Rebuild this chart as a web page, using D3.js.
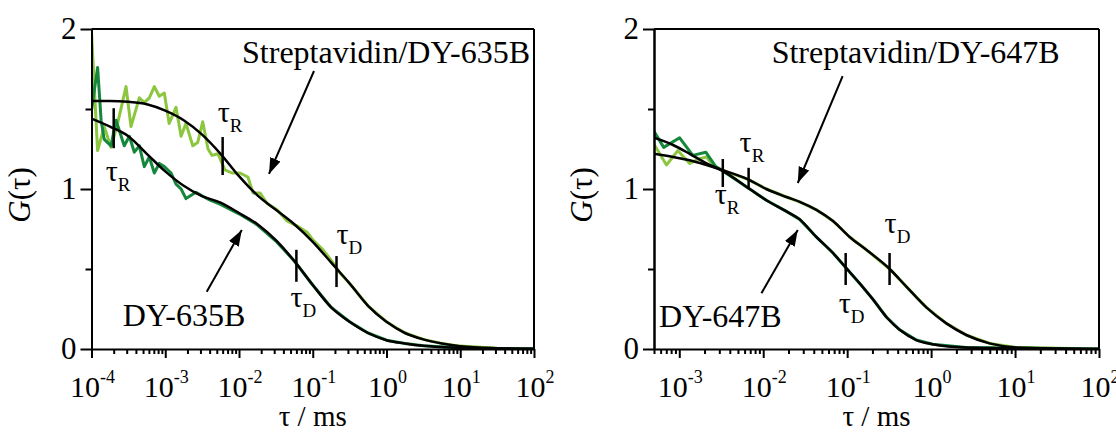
<!DOCTYPE html>
<html lang="en">
<head>
  <meta charset="UTF-8">
  <title>FCS correlation curves</title>
  <style>
    body { margin: 0; background: #fff; }
    svg { display: block; }
    text { font-family: "Liberation Serif", "Times New Roman", serif; fill: #000; }
    .domain, .tick line { stroke: #000; stroke-width: 2px; }
    .frame { stroke: #000; stroke-width: 2px; }
    .fit { fill: none; stroke: #000; stroke-width: 2.5px; }
    .data { fill: none; stroke-width: 3px; stroke-linejoin: round; }
  </style>
</head>
<body>
  <svg id="chart" width="1116" height="432"></svg>
  <script src="https://d3js.org/d3.v7.min.js"></script>
  <script>
    // tau in ms, G(tau)
    const data635Free = [[1e-4,1.49],[1.21e-4,1.76],[1.35e-4,1.43],[1.49e-4,1.31],[1.84e-4,1.27],[2.15e-4,1.43],
      [2.78e-4,1.27],[3.26e-4,1.33],[3.81e-4,1.23],[4.45e-4,1.27],[5.2e-4,1.14],[6.08e-4,1.2],[7.11e-4,1.1],
      [8.3e-4,1.16],[9.71e-4,1.14],[1.2e-3,1.1],[1.4e-3,1.03],[1.64e-3,1.0],[1.91e-3,0.94],[2.61e-3,0.98],
      [3.22e-3,0.955],[4.05e-3,0.93],[5.53e-3,0.905],[1e-2,0.845],[1.78e-2,0.775],[3.16e-2,0.675],[5.62e-2,0.55],
      [0.1,0.4],[0.178,0.26],[0.316,0.17],[0.562,0.1],[1,0.055],[1.78,0.035],[3.16,0.02],[10,0.007],[100,0]];
    const data635Strep = [[1e-4,1.98],[1.21e-4,1.24],[1.49e-4,1.39],[1.84e-4,1.26],[2.26e-4,1.41],[2.94e-4,1.64],
      [3.43e-4,1.39],[4.45e-4,1.57],[5.2e-4,1.54],[6.08e-4,1.57],[7.11e-4,1.64],[8.3e-4,1.58],[9.71e-4,1.6],
      [1.13e-3,1.41],[1.4e-3,1.51],[1.64e-3,1.33],[1.91e-3,1.41],[2.36e-3,1.27],[2.75e-3,1.29],[3.22e-3,1.42],
      [3.8e-3,1.25],[4.31e-3,1.21],[5.19e-3,1.22],[6.45e-3,1.12],[8.04e-3,1.1],[1.03e-2,1.1],[1.32e-2,1.075],
      [1.55e-2,0.975],[1.93e-2,0.975],[2.4e-2,0.91],[3.28e-2,0.87],[4.48e-2,0.8],[6.11e-2,0.77],[8.36e-2,0.73],
      [0.101,0.68],[0.138,0.62],[0.188,0.54],[0.234,0.475],[0.316,0.41],[0.562,0.27],[1,0.17],[1.78,0.1],
      [3.16,0.06],[5.62,0.035],[10,0.018],[31.6,0.005],[100,0.001]];
    const fit635Free = [[1e-4,1.44],[1.78e-4,1.39],[3.16e-4,1.33],[5.62e-4,1.22],[1e-3,1.11],[1.78e-3,1.02],
      [3.16e-3,0.955],[5.62e-3,0.915],[1e-2,0.85],[1.78e-2,0.78],[3.16e-2,0.68],[5.62e-2,0.55],[0.1,0.4],
      [0.178,0.26],[0.316,0.17],[0.562,0.1],[1,0.055],[1.78,0.035],[3.16,0.02],[5.62,0.012],[10,0.007],
      [31.6,0.002],[100,0]];
    const fit635Strep = [[1e-4,1.55],[1.78e-4,1.55],[3.16e-4,1.545],[5.62e-4,1.53],[1e-3,1.49],[1.78e-3,1.43],
      [3.16e-3,1.34],[5.62e-3,1.22],[1e-2,1.08],[1.78e-2,0.96],[3.16e-2,0.87],[5.62e-2,0.78],[0.1,0.67],
      [0.178,0.54],[0.316,0.41],[0.562,0.27],[1,0.17],[1.78,0.1],[3.16,0.06],[5.62,0.035],[10,0.018],
      [31.6,0.005],[100,0.001]];

    const data647Free = [[5e-4,1.36],[6.53e-4,1.26],[1.01e-3,1.32],[1.45e-3,1.21],[2.07e-3,1.23],[2.72e-3,1.14],
      [3.24e-3,1.115],[6.9e-3,1.0],[1.09e-2,0.93],[1.89e-2,0.86],[2.72e-2,0.81],[4.3e-2,0.7],[6.78e-2,0.6],
      [9.59e-2,0.51],[0.141,0.41],[0.203,0.31],[0.293,0.2],[0.422,0.12],[0.667,0.056],[1.04,0.03],[2.62,0.01],[100,0]];
    const data647Strep = [[5e-4,1.28],[7.04e-4,1.15],[9.6e-4,1.24],[1.33e-3,1.16],[1.75e-3,1.19],[2.11e-3,1.2],
      [2.51e-3,1.15],[3.18e-3,1.12],[6.59e-3,1.06],[1.09e-2,1.0],[1.89e-2,0.95],[2.72e-2,0.92],[4.3e-2,0.87],
      [6.78e-2,0.8],[0.107,0.7],[0.169,0.62],[0.321,0.5],[0.507,0.39],[0.877,0.26],[1.52,0.16],[2.62,0.0875],
      [4.97,0.035],[10.3,0.01],[100,0]];
    const fit647Free = [[5e-4,1.32],[8.43e-4,1.275],[1.33e-3,1.22],[2.11e-3,1.16],[3.24e-3,1.115],[6.9e-3,1.0],
      [1.09e-2,0.93],[1.89e-2,0.86],[2.72e-2,0.81],[4.3e-2,0.7],[6.78e-2,0.6],[9.59e-2,0.51],[0.141,0.41],
      [0.203,0.31],[0.293,0.2],[0.422,0.12],[0.667,0.056],[1.04,0.03],[2.62,0.01],[100,0]];
    const fit647Strep = [[5e-4,1.22],[8.43e-4,1.2],[1.33e-3,1.18],[2.11e-3,1.15],[3.18e-3,1.12],[6.59e-3,1.06],
      [1.09e-2,1.0],[1.89e-2,0.95],[2.72e-2,0.92],[4.3e-2,0.87],[6.78e-2,0.8],[0.107,0.7],[0.169,0.62],
      [0.321,0.5],[0.507,0.39],[0.877,0.26],[1.52,0.16],[2.62,0.0875],[4.97,0.035],[10.3,0.01],[100,0]];

    // tau_R / tau_D markers: [tau, G, sub]
    const marks635 = [[2e-4,1.38,"R"],[6e-3,1.206,"R"],[0.21,0.484,"D"],[0.06,0.52,"D"]];
    const marks647 = [[3.3e-3,1.1,"R"],[6.7e-3,1.07,"R"],[0.32,0.5,"D"],[0.096,0.5,"D"]];

    const decades635 = [-4,-3,-2,-1,0,1,2];
    const decades647 = [-3,-2,-1,0,1,2];
    const yMajor = [0,1,2];
    const yMinor = [0.5,1.5];

    const lightGreen = "#8cc63f";
    const darkGreen = "#15873c";

    const svg = d3.select("#chart");
    const plotTop = 29, plotBottom = 349;

    const panels = [
      {
        id: "p1", left: 91.5, right: 534, domain: [1e-4, 100], decades: decades635,
        free: data635Free, strep: data635Strep, fitFree: fit635Free, fitStrep: fit635Strep,
        marks: marks635, markLen: [40, 38, 31, 32],
        labelOff: [[-8, 53], [-5, -34], [0, -28], [-6, 41]],
        strepLabel: "Streptavidin/DY-635B", strepText: [1.1e-2, 1.79],
        strepArrow: [[0.104, 1.7375], [0.0255, 1.094]],
        freeLabel: "DY-635B", freeText: [1.22e-2, 0.144],
        freeArrow: [[3.65e-3, 0.358], [1.09e-2, 0.744]]
      },
      {
        id: "p2", left: 654, right: 1099, domain: [5e-4, 100], decades: decades647,
        free: data647Free, strep: data647Strep, fitFree: fit647Free, fitStrep: fit647Strep,
        marks: marks647, markLen: [28, 20, 32, 32],
        labelOff: [[-8, 31], [-9, -26], [-5, -36], [-7, 44]],
        strepLabel: "Streptavidin/DY-647B", strepText: [1.26e-2, 1.79],
        strepArrow: [[8.83e-2, 1.706], [2.58e-2, 1.0375]],
        freeLabel: "DY-647B", freeText: [1.66e-2, 0.1375],
        freeArrow: [[9.52e-3, 0.348], [2.58e-2, 0.744]]
      }
    ];

    svg.append("defs").append("marker")
      .attr("id", "head")
      .attr("viewBox", "0 0 10 10")
      .attr("refX", 10).attr("refY", 5)
      .attr("markerWidth", 8).attr("markerHeight", 8)
      .attr("markerUnits", "strokeWidth")
      .attr("orient", "auto")
      .append("path").attr("d", "M0,1.5 L10,5 L0,8.5 z").attr("fill", "#000");

    panels.forEach(p => {
      const x = d3.scaleLog().domain(p.domain).range([p.left, p.right]);
      const y = d3.scaleLinear().domain([0, 2]).range([plotBottom, plotTop]);
      const g = svg.append("g");

      g.append("clipPath").attr("id", "clip-" + p.id)
        .append("rect").attr("x", p.left).attr("y", plotTop)
        .attr("width", p.right - p.left).attr("height", plotBottom - plotTop);

      const line = d3.line().x(d => x(d[0])).y(d => y(d[1]));
      const smooth = d3.line().x(d => x(d[0])).y(d => y(d[1])).curve(d3.curveMonotoneX);

      const plot = g.append("g").attr("clip-path", `url(#clip-${p.id})`);
      plot.append("path").datum(p.strep).attr("class", "data").attr("stroke", lightGreen).attr("d", line);
      plot.append("path").datum(p.free).attr("class", "data").attr("stroke", darkGreen).attr("d", line);
      plot.append("path").datum(p.fitStrep).attr("class", "fit").attr("d", smooth);
      plot.append("path").datum(p.fitFree).attr("class", "fit").attr("d", smooth);

      // frame
      g.append("line").attr("class", "frame")
        .attr("x1", p.left).attr("x2", p.right).attr("y1", plotTop).attr("y2", plotTop);
      g.append("line").attr("class", "frame")
        .attr("x1", p.right).attr("x2", p.right).attr("y1", plotTop).attr("y2", plotBottom);

      // x axis
      const majors = p.decades.map(e => Math.pow(10, e));
      const minors = [];
      majors.forEach(m => d3.range(2, 10).forEach(k => {
        const v = m * k;
        if (v >= p.domain[0] && v <= p.domain[1]) minors.push(v);
      }));
      d3.range(2, 10).forEach(k => {
        const v = majors[0] / 10 * k;
        if (v >= p.domain[0]) minors.push(v);
      });
      g.append("g").attr("transform", `translate(0,${plotBottom})`)
        .call(d3.axisBottom(x).tickValues(minors).tickSize(5).tickFormat("").tickSizeOuter(0))
        .select(".domain").remove();
      g.append("g").attr("transform", `translate(0,${plotBottom})`)
        .call(d3.axisBottom(x).tickValues(majors).tickSize(9).tickFormat("").tickSizeOuter(0));

      const xl = g.append("g").selectAll("text").data(p.decades).join("text")
        .attr("x", d => x(Math.pow(10, d)) + 1)
        .attr("y", 397)
        .attr("text-anchor", "middle")
        .style("font-size", "30px");
      xl.append("tspan").text("10");
      xl.append("tspan").attr("dy", -14).style("font-size", "18px").text(d => d);

      // y axis
      g.append("g").attr("transform", `translate(${p.left},0)`)
        .call(d3.axisLeft(y).tickValues(yMinor).tickSize(6).tickFormat("").tickSizeOuter(0));
      g.append("g").attr("transform", `translate(${p.left},0)`)
        .call(d3.axisLeft(y).tickValues(yMajor).tickFormat(d3.format("d"))
          .tickSize(11).tickPadding(4).tickSizeOuter(0))
        .selectAll("text").style("font-size", "31px").attr("font-family", null);

      // titles
      g.append("text").attr("x", (p.left + p.right) / 2).attr("y", 426)
        .attr("text-anchor", "middle").style("font-size", "29px").text("τ / ms");
      const yt = g.append("text")
        .attr("transform", `translate(${p.left - 62},${(plotTop + plotBottom) / 2 + 6}) rotate(-90)`)
        .attr("text-anchor", "middle").style("font-size", "31px");
      yt.append("tspan").style("font-style", "italic").text("G");
      yt.append("tspan").text("(τ)");

      // tau markers
      p.marks.forEach((m, i) => {
        const cx = x(m[0]), cy = y(m[1]), h = p.markLen[i] / 2;
        g.append("line").attr("x1", cx).attr("x2", cx).attr("y1", cy - h).attr("y2", cy + h)
          .attr("stroke", "#000").attr("stroke-width", 2.5);
        const t = g.append("text")
          .attr("x", cx + p.labelOff[i][0]).attr("y", cy + p.labelOff[i][1])
          .style("font-size", "30px");
        t.append("tspan").text("τ");
        t.append("tspan").attr("dy", 10).style("font-size", "19px").text(m[2]);
      });

      // annotations
      g.append("text").attr("x", x(p.strepText[0])).attr("y", y(p.strepText[1]))
        .style("font-size", "32px").text(p.strepLabel);
      g.append("text").attr("x", x(p.freeText[0])).attr("y", y(p.freeText[1]))
        .attr("text-anchor", "end").style("font-size", "32px").text(p.freeLabel);
      [p.strepArrow, p.freeArrow].forEach(a => {
        g.append("line")
          .attr("x1", x(a[0][0])).attr("y1", y(a[0][1]))
          .attr("x2", x(a[1][0])).attr("y2", y(a[1][1]))
          .attr("stroke", "#000").attr("stroke-width", 2)
          .attr("marker-end", "url(#head)");
      });
    });
  </script>
</body>
</html>
